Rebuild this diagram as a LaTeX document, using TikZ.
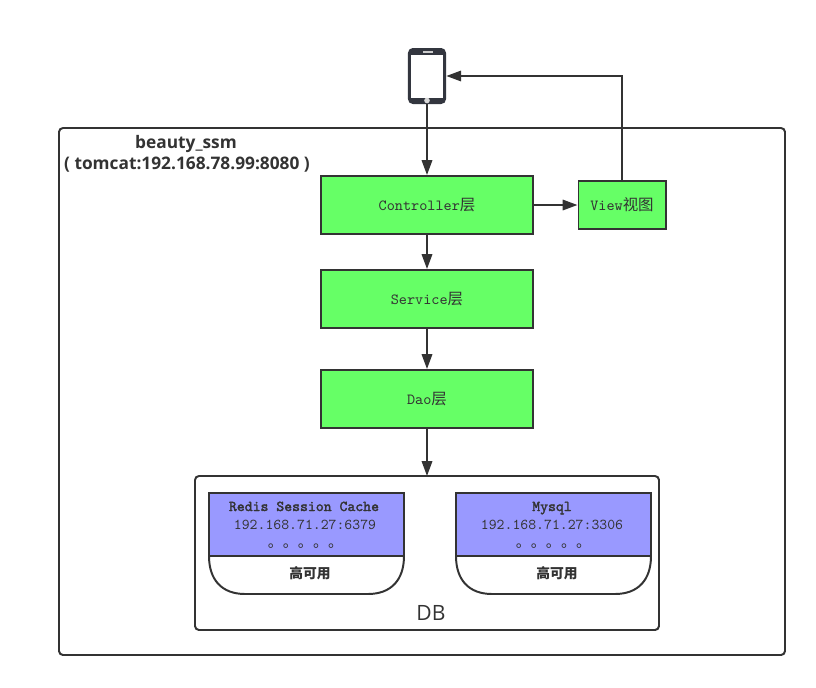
\documentclass[tikz,border=0pt]{standalone}
\usepackage{fontspec}
\usepackage{xcolor}
\setmainfont{Open Sans}
\setmonofont[AutoFakeBold=2]{Latin Modern Mono}
\newfontfamily\cjk{Noto Sans CJK SC}
\usetikzlibrary{positioning,arrows.meta}
\definecolor{linegray}{HTML}{333333}
\definecolor{phonegray}{HTML}{33363F}
\definecolor{layergreen}{HTML}{66FF66}
\definecolor{dbblue}{HTML}{9999FF}
\tikzstyle{arrow} = [-{Triangle[length=0.37cm,width=0.26cm]}, line width=1.4pt, draw=linegray]
\tikzstyle{frame} = [draw=linegray, line width=1.4pt, rounded corners=0.1cm]
\tikzstyle{layer} = [rectangle, draw=linegray, line width=1.4pt, fill=layergreen, text=linegray, minimum width=5.275cm, minimum height=1.45cm, font=\ttfamily\fontsize{11}{12}\selectfont]
\tikzstyle{dbhead} = [rectangle, draw=linegray, line width=1.4pt, fill=dbblue, minimum width=4.875cm, minimum height=1.575cm]
\tikzstyle{dbtext} = [text=linegray, inner sep=0pt, anchor=base, font=\ttfamily\fontsize{10.7}{12}\selectfont]
\tikzstyle{dbname} = [dbtext, font=\ttfamily\bfseries\fontsize{10.7}{12}\selectfont]
\tikzstyle{dbdots} = [dbtext, font=\cjk\fontsize{10.7}{12}\selectfont]
\tikzstyle{hatext} = [text=linegray, inner sep=0pt, font=\cjk\bfseries\fontsize{9.8}{11}\selectfont]
\tikzstyle{heading} = [text=linegray, inner sep=0pt, font=\bfseries\fontsize{12.3}{14}\selectfont]

\begin{document}
\begin{tikzpicture}[x=0.025cm, y=-0.025cm]
    \useasboundingbox (0,0) rectangle (816,687);

    % Outer boxes
    \draw[frame] (59,128) rectangle (785,655);
    \draw[frame] (195,476) rectangle (659,630);
    \node[heading] (title) at (186,144) {beauty\_ssm};
    \node[heading] (server) at (187,165) {( tomcat:192.168.78.99:8080 )};

    % Phone
    \node[rectangle, fill=phonegray, rounded corners=0.12cm, minimum width=0.95cm, minimum height=1.4cm, inner sep=0pt] (phone) at (427,76) {};
    \node[rectangle, fill=white, minimum width=0.82cm, minimum height=1.08cm, inner sep=0pt] (screen) at (427,76.5) {};
    \node[circle, fill=gray!30, minimum size=0.14cm, inner sep=0pt] (home) at (427,100.5) {};
    \node[rectangle, fill=gray!40, minimum width=0.24cm, minimum height=0.03cm, inner sep=0pt] (speaker) at (428,52) {};

    % Layers
    \node[layer] (controller) at (427,205) {Controller{\cjk 层}};
    \node[layer] (service) at (427,299) {Service{\cjk 层}};
    \node[layer] (dao) at (427,399) {Dao{\cjk 层}};
    \node[layer, minimum width=2.175cm, minimum height=1.2cm] (view) at (622,205) {View{\cjk 视图}};

    % Redis
    \draw[draw=linegray, line width=1.4pt, fill=white] (209,556) .. controls (209,580) and (222,594) .. (245,594) -- (368,594) .. controls (391,594) and (404,580) .. (404,556);
    \node[dbhead] (redis) at (306.5,524.5) {};
    \node[dbname] (redisname) at (304,511) {Redis Session Cache};
    \node[dbtext] (redisip) at (305,529) {192.168.71.27:6379};
    \node[dbdots] (redisdots) at (305.5,547) {。。。。。};
    \node[hatext] (redisha) at (310,573.5) {高可用};

    % Mysql
    \draw[draw=linegray, line width=1.4pt, fill=white] (456,556) .. controls (456,580) and (469,594) .. (492,594) -- (615,594) .. controls (638,594) and (651,580) .. (651,556);
    \node[dbhead] (mysql) at (553.5,524.5) {};
    \node[dbname] (mysqlname) at (552,511) {Mysql};
    \node[dbtext] (mysqlip) at (552,529) {192.168.71.27:3306};
    \node[dbdots] (mysqldots) at (553.5,547) {。。。。。};
    \node[hatext] (mysqlha) at (557,573.5) {高可用};

    \node[text=linegray, inner sep=0pt, font=\fontsize{15}{18}\selectfont] (db) at (431,613) {DB};
    \coordinate (dbtop) at (427,476);

    % Connections
    \draw[arrow] (phone.south) -- (controller.north);
    \draw[arrow] (controller) -- (service);
    \draw[arrow] (service) -- (dao);
    \draw[arrow] (dao.south) -- (dbtop);
    \draw[arrow] (controller.east) -- (view.west);
    \draw[arrow] (view.north) |- (phone.east);
\end{tikzpicture}
\end{document}
